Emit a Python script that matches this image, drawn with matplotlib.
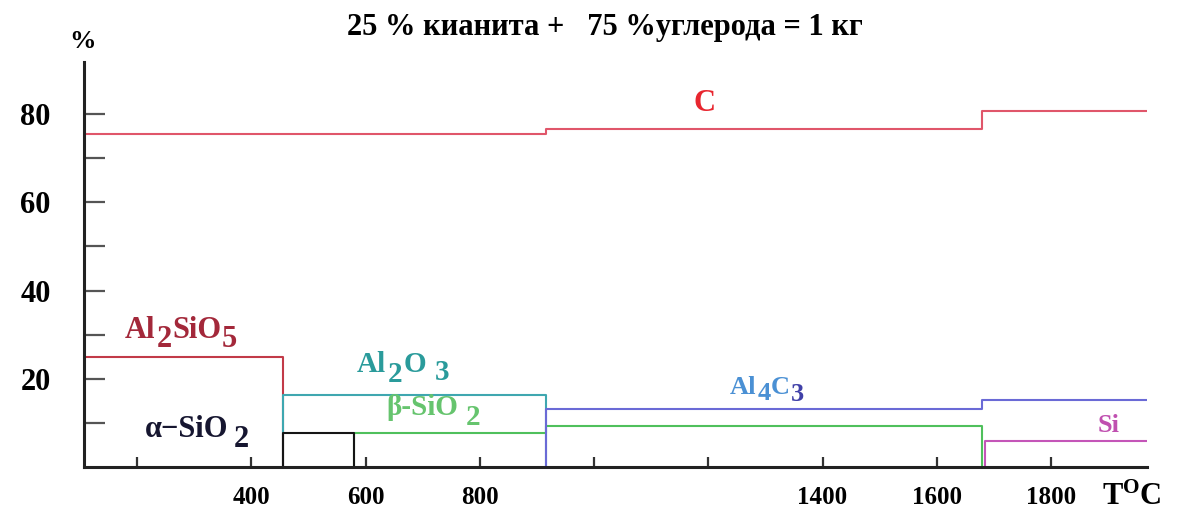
import matplotlib
matplotlib.use("Agg")
import matplotlib.pyplot as plt
from matplotlib.ticker import FixedLocator, NullFormatter
from matplotlib.transforms import offset_copy

# Phase composition of a kyanite + carbon mixture versus temperature
T_MIN, T_MAX = 107, 1968

# Step profiles: temperatures (°C) and mass fractions (%)
c_T = [T_MIN, 915, 1680, T_MAX]
c_pct = [75.5, 76.6, 80.8, 80.8]

al2sio5_T = [T_MIN, 455, 455]
al2sio5_pct = [25.0, 25.0, 0.0]

al2o3_T = [455, 455, 915, 915]
al2o3_pct = [0.0, 16.3, 16.3, 0.0]

alpha_sio2_T = [455, 455, 580, 580]
alpha_sio2_pct = [0.0, 7.8, 7.8, 0.0]

beta_sio2_T = [580, 580, 915, 915, 1680, 1680]
beta_sio2_pct = [0.0, 7.8, 7.8, 9.3, 9.3, 0.0]

al4c3_T = [915, 915, 1680, 1680, T_MAX]
al4c3_pct = [0.0, 13.1, 13.1, 15.1, 15.1]

si_T = [1685, 1685, T_MAX]
si_pct = [0.0, 5.9, 5.9]

x_major = [400, 600, 800, 1400, 1600, 1800]
x_minor = [200, 1000, 1200]
y_major = [20, 40, 60, 80]
y_minor = [10, 30, 50, 70]

plt.rcParams["font.family"] = ["Liberation Serif", "DejaVu Serif"]
plt.rcParams["font.weight"] = "bold"
plt.rcParams["mathtext.fontset"] = "custom"
plt.rcParams["mathtext.rm"] = "Liberation Serif:bold"
plt.rcParams["mathtext.it"] = "Liberation Serif:bold:italic"
plt.rcParams["mathtext.bf"] = "Liberation Serif:bold"

W, H = 1183, 513
fig = plt.figure(figsize=(W / 100, H / 100), dpi=100)
ax = fig.add_axes([84 / W, (H - 467) / H, (1147 - 84) / W, (467 - 62) / H])
ax.set_xlim(T_MIN, T_MAX)
ax.set_ylim(0, 91.8)

lw = 1.5
ax.plot(c_T, c_pct, drawstyle="steps-post", color="#e0566a", lw=lw)
ax.plot(al2sio5_T, al2sio5_pct, color="#c23a48", lw=lw)
ax.plot(al2o3_T, al2o3_pct, color="#3fa7b0", lw=lw)
ax.plot(beta_sio2_T, beta_sio2_pct, color="#4fc05c", lw=lw)
ax.plot(alpha_sio2_T, alpha_sio2_pct, color="#151515", lw=lw)
ax.plot(al4c3_T, al4c3_pct, color="#6a6ad6", lw=lw)
ax.plot(si_T, si_pct, color="#c455b8", lw=lw)

renderer = fig.canvas.get_renderer()


def formula(x, y, pieces, size):
    """Write a chemical formula piece by piece; subscripts keep full size
    and are only lowered. pieces: (text, shift in points, gap after, colour)."""
    dx = 0.0
    for s, dy, gap, color in pieces:
        tr = offset_copy(ax.transData, fig=fig, x=dx, y=dy, units="points")
        t = ax.text(x, y, s, transform=tr, ha="left", va="baseline",
                    color=color, fontsize=size)
        dx += t.get_window_extent(renderer).width * 72 / fig.dpi + gap


red, teal, green, navy = "#a3283a", "#2a9b9b", "#66c46e", "#161630"
formula(179, 29.2, [("Al", 0, 0.5, red), ("2", -6.5, 0.5, red),
                    ("SiO", 0, 0.5, red), ("5", -6.5, 0, red)], 22)
formula(585, 21.5, [("Al", 0, 1.0, teal), ("2", -7, 1.0, teal),
                    ("O", 0, 6.0, teal), ("3", -6, 0, teal)], 21)
formula(637, 11.8, [("β-SiO", 0, 5.0, green), ("2", -7, 0, green)], 21)
formula(214, 6.8, [("α−SiO", 0, 4.0, navy), ("2", -7, 0, navy)], 22)
formula(1238, 16.5, [("Al", 0, 0.5, "#4a90d4"), ("4", -4, 0.5, "#4a90d4"),
                     ("C", 0, 0.5, "#4a90d4"), ("3", -5, 0, "#4040a8")], 19)
ax.text(1194, 82.5, "C", color="#e8262f", fontsize=22, ha="center", va="center")
ax.text(1882, 9.5, "Si", color="#c050b0", fontsize=19, ha="left", va="center")

for side in ("top", "right"):
    ax.spines[side].set_visible(False)
for side in ("left", "bottom"):
    ax.spines[side].set_linewidth(2.2)
    ax.spines[side].set_color("#222222")

ax.xaxis.set_major_locator(FixedLocator(x_major))
ax.xaxis.set_minor_locator(FixedLocator(x_minor))
ax.xaxis.set_minor_formatter(NullFormatter())
ax.set_xticklabels([str(v) for v in x_major])
ax.yaxis.set_major_locator(FixedLocator(y_major))
ax.yaxis.set_minor_locator(FixedLocator(y_minor))
ax.yaxis.set_minor_formatter(NullFormatter())
ax.set_yticklabels([str(v) for v in y_major])

ax.tick_params(axis="x", which="both", direction="in", length=7, width=1.6,
               color="#333333", labelsize=18, pad=14)
ax.tick_params(axis="y", which="both", direction="in", length=15, width=1.6,
               color="#555555", labelsize=22, pad=24)

fig.text(605 / W, 1 - 28 / H, "25 % кианита +   75 %углерода = 1 кг",
         ha="center", va="center", fontsize=22, fontweight="bold")
fig.text(82 / W, 1 - 42 / H, "%", ha="center", va="center", fontsize=19)
fig.text(1132 / W, 1 - 497 / H, r"T$^\mathrm{O}$C", ha="center", va="center",
         fontsize=22)

fig.savefig("out.png", dpi=100, facecolor="white")
